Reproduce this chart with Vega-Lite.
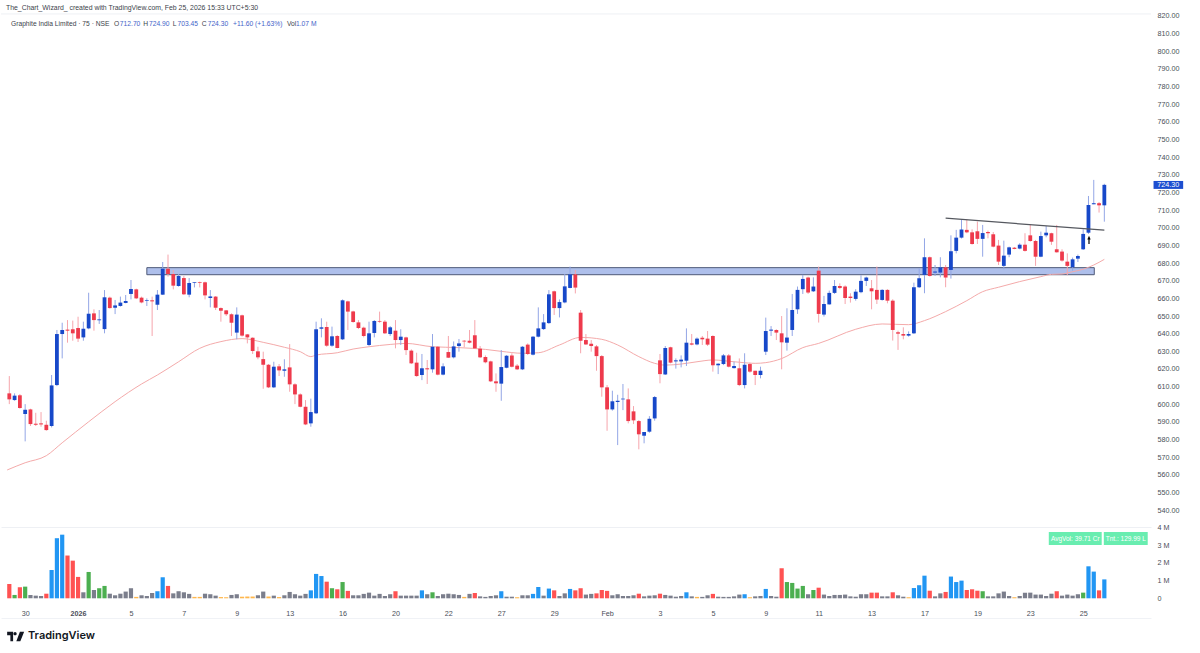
{
  "$schema": "https://vega.github.io/schema/vega-lite/v6.json",
  "description": "Graphite India Limited 75 minute candles with volume",
  "background": "#ffffff",
  "padding": 0,
  "spacing": 0,
  "bounds": "flush",
  "resolve": {"scale": {"color": "independent"}},
  "config": {
    "view": {"stroke": null},
    "font": "Liberation Sans",
    "axis": {"labelFont": "Liberation Sans", "grid": false, "ticks": false, "title": null, "labelOverlap": false}
  },
  "datasets": {
    "bars": [
      {"i":0,"o":606.2,"h":616.0,"l":600.1,"c":602.8,"v":0.81,"kind":"red"},
      {"i":1,"o":602.4,"h":606.2,"l":602.0,"c":604.9,"v":0.19,"kind":"green"},
      {"i":2,"o":605.1,"h":605.8,"l":597.5,"c":597.9,"v":0.62,"kind":"red"},
      {"i":3,"o":594.5,"h":600.1,"l":579.0,"c":596.9,"v":0.66,"kind":"green"},
      {"i":4,"o":597.1,"h":597.5,"l":587.7,"c":588.8,"v":0.19,"kind":"grey"},
      {"i":5,"o":589.0,"h":595.2,"l":587.7,"c":588.4,"v":0.15,"kind":"grey"},
      {"i":6,"o":589.2,"h":595.6,"l":587.3,"c":588.6,"v":0.13,"kind":"grey"},
      {"i":7,"o":588.4,"h":590.7,"l":585.0,"c":585.4,"v":0.26,"kind":"red"},
      {"i":8,"o":587.7,"h":616.6,"l":586.9,"c":610.7,"v":1.60,"kind":"blue"},
      {"i":9,"o":610.9,"h":642.1,"l":610.3,"c":639.8,"v":3.40,"kind":"blue"},
      {"i":10,"o":639.8,"h":646.2,"l":626.0,"c":642.1,"v":3.60,"kind":"blue"},
      {"i":11,"o":642.3,"h":647.7,"l":634.9,"c":641.7,"v":2.42,"kind":"red"},
      {"i":12,"o":642.5,"h":647.4,"l":636.0,"c":640.2,"v":2.13,"kind":"red"},
      {"i":13,"o":643.2,"h":649.6,"l":635.3,"c":637.2,"v":1.21,"kind":"red"},
      {"i":14,"o":637.9,"h":646.8,"l":636.0,"c":642.8,"v":0.34,"kind":"grey"},
      {"i":15,"o":643.0,"h":663.2,"l":642.5,"c":651.3,"v":1.49,"kind":"green"},
      {"i":16,"o":651.5,"h":653.8,"l":641.7,"c":647.7,"v":0.47,"kind":"grey"},
      {"i":17,"o":647.6,"h":653.4,"l":645.5,"c":648.1,"v":0.57,"kind":"green"},
      {"i":18,"o":642.6,"h":664.7,"l":640.2,"c":660.6,"v":0.70,"kind":"green"},
      {"i":19,"o":660.4,"h":661.0,"l":654.2,"c":654.5,"v":0.26,"kind":"grey"},
      {"i":20,"o":654.7,"h":659.1,"l":651.1,"c":656.0,"v":0.17,"kind":"grey"},
      {"i":21,"o":655.7,"h":661.0,"l":655.3,"c":657.6,"v":0.26,"kind":"grey"},
      {"i":22,"o":657.4,"h":661.9,"l":657.2,"c":658.5,"v":0.38,"kind":"grey"},
      {"i":23,"o":662.5,"h":670.4,"l":659.4,"c":665.3,"v":0.57,"kind":"grey"},
      {"i":24,"o":665.1,"h":665.5,"l":659.6,"c":660.0,"v":0.08,"kind":"orange"},
      {"i":25,"o":660.4,"h":661.0,"l":657.2,"c":657.7,"v":0.17,"kind":"grey"},
      {"i":26,"o":658.5,"h":660.0,"l":655.7,"c":658.9,"v":0.13,"kind":"grey"},
      {"i":27,"o":658.9,"h":661.0,"l":638.7,"c":658.3,"v":0.30,"kind":"grey"},
      {"i":28,"o":656.4,"h":664.7,"l":653.4,"c":662.1,"v":0.40,"kind":"blue"},
      {"i":29,"o":662.1,"h":680.6,"l":661.9,"c":676.8,"v":1.19,"kind":"blue"},
      {"i":30,"o":676.8,"h":684.8,"l":672.3,"c":673.8,"v":0.70,"kind":"red"},
      {"i":31,"o":673.8,"h":676.1,"l":665.1,"c":667.2,"v":0.28,"kind":"grey"},
      {"i":32,"o":667.0,"h":673.8,"l":666.6,"c":672.7,"v":0.40,"kind":"grey"},
      {"i":33,"o":671.5,"h":672.7,"l":661.9,"c":662.3,"v":0.34,"kind":"grey"},
      {"i":34,"o":662.1,"h":671.5,"l":660.6,"c":668.7,"v":0.25,"kind":"grey"},
      {"i":35,"o":668.7,"h":669.1,"l":666.2,"c":669.1,"v":0.08,"kind":"orange"},
      {"i":36,"o":669.1,"h":669.5,"l":666.2,"c":668.7,"v":0.08,"kind":"orange"},
      {"i":37,"o":669.1,"h":669.5,"l":659.4,"c":661.7,"v":0.26,"kind":"grey"},
      {"i":38,"o":660.2,"h":664.7,"l":654.9,"c":661.1,"v":0.23,"kind":"grey"},
      {"i":39,"o":661.0,"h":661.3,"l":653.4,"c":654.7,"v":0.15,"kind":"grey"},
      {"i":40,"o":654.5,"h":654.9,"l":646.8,"c":653.0,"v":0.07,"kind":"orange"},
      {"i":41,"o":653.2,"h":653.4,"l":650.0,"c":651.0,"v":0.06,"kind":"orange"},
      {"i":42,"o":651.0,"h":651.5,"l":638.7,"c":646.2,"v":0.19,"kind":"grey"},
      {"i":43,"o":640.6,"h":654.9,"l":636.8,"c":650.8,"v":0.23,"kind":"grey"},
      {"i":44,"o":650.4,"h":650.8,"l":638.3,"c":638.9,"v":0.09,"kind":"orange"},
      {"i":45,"o":639.6,"h":639.8,"l":634.5,"c":637.9,"v":0.10,"kind":"orange"},
      {"i":46,"o":637.7,"h":637.9,"l":628.5,"c":630.2,"v":0.10,"kind":"orange"},
      {"i":47,"o":630.0,"h":632.6,"l":625.5,"c":626.6,"v":0.17,"kind":"grey"},
      {"i":48,"o":625.6,"h":629.8,"l":608.8,"c":622.4,"v":0.38,"kind":"grey"},
      {"i":49,"o":622.4,"h":622.8,"l":609.2,"c":609.6,"v":0.10,"kind":"orange"},
      {"i":50,"o":609.6,"h":624.1,"l":609.2,"c":621.3,"v":0.15,"kind":"grey"},
      {"i":51,"o":621.5,"h":622.8,"l":616.0,"c":619.2,"v":0.07,"kind":"orange"},
      {"i":52,"o":619.0,"h":625.5,"l":615.6,"c":619.8,"v":0.17,"kind":"grey"},
      {"i":53,"o":620.9,"h":634.1,"l":607.1,"c":611.3,"v":0.36,"kind":"grey"},
      {"i":54,"o":611.3,"h":611.9,"l":600.1,"c":605.6,"v":0.23,"kind":"grey"},
      {"i":55,"o":605.6,"h":606.2,"l":598.3,"c":598.6,"v":0.15,"kind":"grey"},
      {"i":56,"o":598.6,"h":602.4,"l":588.2,"c":588.6,"v":0.25,"kind":"grey"},
      {"i":57,"o":589.2,"h":603.2,"l":587.3,"c":595.6,"v":0.45,"kind":"blue"},
      {"i":58,"o":594.9,"h":646.8,"l":594.5,"c":642.5,"v":1.38,"kind":"blue"},
      {"i":59,"o":642.8,"h":648.7,"l":637.9,"c":643.6,"v":1.26,"kind":"blue"},
      {"i":60,"o":643.8,"h":646.8,"l":632.6,"c":633.2,"v":0.94,"kind":"red"},
      {"i":61,"o":633.2,"h":644.0,"l":632.6,"c":638.5,"v":0.57,"kind":"green"},
      {"i":62,"o":638.7,"h":639.2,"l":631.7,"c":631.9,"v":0.51,"kind":"red"},
      {"i":63,"o":636.8,"h":659.4,"l":636.4,"c":658.9,"v":0.92,"kind":"green"},
      {"i":64,"o":658.3,"h":658.7,"l":642.1,"c":652.5,"v":0.42,"kind":"red"},
      {"i":65,"o":652.6,"h":653.0,"l":646.2,"c":646.6,"v":0.17,"kind":"grey"},
      {"i":66,"o":646.4,"h":647.7,"l":642.6,"c":643.2,"v":0.17,"kind":"grey"},
      {"i":67,"o":643.4,"h":644.0,"l":637.9,"c":638.7,"v":0.25,"kind":"grey"},
      {"i":68,"o":633.6,"h":646.8,"l":633.0,"c":640.2,"v":0.32,"kind":"grey"},
      {"i":69,"o":640.4,"h":647.7,"l":637.9,"c":647.2,"v":0.15,"kind":"grey"},
      {"i":70,"o":647.2,"h":652.5,"l":646.2,"c":646.8,"v":0.25,"kind":"grey"},
      {"i":71,"o":646.8,"h":647.7,"l":639.8,"c":640.2,"v":0.13,"kind":"grey"},
      {"i":72,"o":639.8,"h":644.3,"l":638.7,"c":643.6,"v":0.23,"kind":"grey"},
      {"i":73,"o":641.7,"h":647.7,"l":631.7,"c":636.4,"v":0.40,"kind":"red"},
      {"i":74,"o":636.4,"h":642.5,"l":633.6,"c":638.3,"v":0.15,"kind":"grey"},
      {"i":75,"o":637.9,"h":638.3,"l":627.9,"c":630.7,"v":0.15,"kind":"grey"},
      {"i":76,"o":630.4,"h":631.1,"l":622.8,"c":623.2,"v":0.15,"kind":"grey"},
      {"i":77,"o":623.6,"h":629.2,"l":615.6,"c":616.0,"v":0.15,"kind":"grey"},
      {"i":78,"o":616.6,"h":628.5,"l":613.7,"c":620.4,"v":0.45,"kind":"blue"},
      {"i":79,"o":620.4,"h":625.1,"l":611.5,"c":619.8,"v":0.23,"kind":"grey"},
      {"i":80,"o":619.8,"h":639.8,"l":617.9,"c":632.6,"v":0.34,"kind":"green"},
      {"i":81,"o":632.6,"h":633.0,"l":616.4,"c":616.8,"v":0.13,"kind":"grey"},
      {"i":82,"o":616.8,"h":623.2,"l":616.4,"c":621.5,"v":0.23,"kind":"grey"},
      {"i":83,"o":629.6,"h":638.7,"l":626.2,"c":626.4,"v":0.26,"kind":"grey"},
      {"i":84,"o":626.6,"h":635.6,"l":626.0,"c":632.8,"v":0.23,"kind":"grey"},
      {"i":85,"o":633.0,"h":637.0,"l":629.8,"c":634.5,"v":0.19,"kind":"grey"},
      {"i":86,"o":636.0,"h":636.4,"l":632.3,"c":635.6,"v":0.08,"kind":"orange"},
      {"i":87,"o":636.0,"h":642.1,"l":634.5,"c":634.9,"v":0.25,"kind":"grey"},
      {"i":88,"o":639.1,"h":647.7,"l":631.5,"c":631.7,"v":0.30,"kind":"red"},
      {"i":89,"o":631.5,"h":633.0,"l":626.2,"c":626.6,"v":0.11,"kind":"grey"},
      {"i":90,"o":626.8,"h":627.7,"l":623.2,"c":623.8,"v":0.08,"kind":"grey"},
      {"i":91,"o":624.3,"h":624.7,"l":612.6,"c":613.0,"v":0.13,"kind":"grey"},
      {"i":92,"o":613.0,"h":617.5,"l":607.1,"c":611.9,"v":0.17,"kind":"grey"},
      {"i":93,"o":611.7,"h":630.7,"l":602.0,"c":621.1,"v":0.40,"kind":"blue"},
      {"i":94,"o":620.7,"h":627.9,"l":620.4,"c":627.5,"v":0.09,"kind":"grey"},
      {"i":95,"o":627.7,"h":628.9,"l":620.9,"c":621.3,"v":0.09,"kind":"grey"},
      {"i":96,"o":621.9,"h":622.8,"l":619.4,"c":619.8,"v":0.06,"kind":"orange"},
      {"i":97,"o":619.8,"h":633.0,"l":619.4,"c":632.6,"v":0.17,"kind":"grey"},
      {"i":98,"o":633.8,"h":634.5,"l":627.9,"c":628.5,"v":0.17,"kind":"grey"},
      {"i":99,"o":628.1,"h":638.7,"l":627.7,"c":638.3,"v":0.25,"kind":"blue"},
      {"i":100,"o":638.3,"h":654.9,"l":637.9,"c":643.0,"v":0.64,"kind":"blue"},
      {"i":101,"o":642.6,"h":651.1,"l":642.1,"c":646.4,"v":0.15,"kind":"grey"},
      {"i":102,"o":646.0,"h":664.7,"l":645.5,"c":662.3,"v":0.55,"kind":"blue"},
      {"i":103,"o":664.0,"h":664.4,"l":650.6,"c":654.5,"v":0.45,"kind":"red"},
      {"i":104,"o":654.5,"h":659.4,"l":649.2,"c":657.9,"v":0.13,"kind":"grey"},
      {"i":105,"o":657.7,"h":673.8,"l":657.2,"c":666.8,"v":0.28,"kind":"grey"},
      {"i":106,"o":665.9,"h":678.0,"l":665.7,"c":673.6,"v":0.53,"kind":"blue"},
      {"i":107,"o":673.6,"h":676.1,"l":662.8,"c":666.1,"v":0.45,"kind":"red"},
      {"i":108,"o":651.9,"h":653.4,"l":628.9,"c":636.0,"v":0.57,"kind":"red"},
      {"i":109,"o":636.4,"h":639.8,"l":633.6,"c":633.9,"v":0.21,"kind":"grey"},
      {"i":110,"o":634.3,"h":636.4,"l":629.8,"c":633.0,"v":0.25,"kind":"grey"},
      {"i":111,"o":632.8,"h":633.6,"l":619.0,"c":627.3,"v":0.28,"kind":"red"},
      {"i":112,"o":627.3,"h":627.9,"l":604.3,"c":609.6,"v":0.47,"kind":"red"},
      {"i":113,"o":609.6,"h":610.9,"l":585.0,"c":597.1,"v":0.42,"kind":"red"},
      {"i":114,"o":597.1,"h":607.7,"l":596.4,"c":601.7,"v":0.17,"kind":"grey"},
      {"i":115,"o":601.3,"h":605.4,"l":576.9,"c":602.0,"v":0.23,"kind":"grey"},
      {"i":116,"o":602.8,"h":611.5,"l":596.7,"c":603.2,"v":0.13,"kind":"grey"},
      {"i":117,"o":602.8,"h":609.0,"l":589.2,"c":590.5,"v":0.13,"kind":"grey"},
      {"i":118,"o":596.0,"h":599.0,"l":588.8,"c":590.9,"v":0.17,"kind":"grey"},
      {"i":119,"o":590.5,"h":591.1,"l":574.5,"c":583.0,"v":0.26,"kind":"red"},
      {"i":120,"o":582.2,"h":584.3,"l":577.9,"c":584.3,"v":0.11,"kind":"grey"},
      {"i":121,"o":584.5,"h":593.3,"l":583.9,"c":591.8,"v":0.15,"kind":"grey"},
      {"i":122,"o":592.0,"h":604.7,"l":590.7,"c":604.1,"v":0.17,"kind":"grey"},
      {"i":123,"o":624.9,"h":628.5,"l":611.9,"c":617.1,"v":0.26,"kind":"red"},
      {"i":124,"o":616.9,"h":633.0,"l":616.6,"c":631.9,"v":0.19,"kind":"grey"},
      {"i":125,"o":632.3,"h":632.6,"l":623.2,"c":623.6,"v":0.15,"kind":"grey"},
      {"i":126,"o":624.3,"h":626.0,"l":620.2,"c":624.9,"v":0.09,"kind":"grey"},
      {"i":127,"o":624.3,"h":627.7,"l":620.9,"c":625.3,"v":0.13,"kind":"grey"},
      {"i":128,"o":624.7,"h":643.0,"l":621.7,"c":634.9,"v":0.34,"kind":"blue"},
      {"i":129,"o":634.5,"h":639.8,"l":633.4,"c":633.8,"v":0.11,"kind":"grey"},
      {"i":130,"o":633.9,"h":637.9,"l":633.4,"c":637.2,"v":0.08,"kind":"orange"},
      {"i":131,"o":637.7,"h":638.7,"l":633.6,"c":636.8,"v":0.08,"kind":"grey"},
      {"i":132,"o":637.2,"h":641.5,"l":633.0,"c":633.8,"v":0.17,"kind":"grey"},
      {"i":133,"o":638.7,"h":639.1,"l":618.5,"c":622.1,"v":0.25,"kind":"red"},
      {"i":134,"o":622.1,"h":623.2,"l":617.1,"c":623.0,"v":0.09,"kind":"grey"},
      {"i":135,"o":622.8,"h":628.5,"l":622.2,"c":627.7,"v":0.08,"kind":"grey"},
      {"i":136,"o":627.7,"h":628.5,"l":620.9,"c":621.3,"v":0.08,"kind":"grey"},
      {"i":137,"o":620.5,"h":624.1,"l":620.2,"c":621.7,"v":0.11,"kind":"grey"},
      {"i":138,"o":620.4,"h":626.0,"l":610.3,"c":610.9,"v":0.21,"kind":"grey"},
      {"i":139,"o":610.9,"h":628.9,"l":609.0,"c":622.4,"v":0.23,"kind":"blue"},
      {"i":140,"o":622.8,"h":623.6,"l":617.9,"c":618.5,"v":0.06,"kind":"orange"},
      {"i":141,"o":619.0,"h":619.0,"l":610.9,"c":616.6,"v":0.11,"kind":"grey"},
      {"i":142,"o":616.6,"h":621.3,"l":614.7,"c":619.0,"v":0.13,"kind":"grey"},
      {"i":143,"o":629.8,"h":649.1,"l":627.9,"c":641.5,"v":0.53,"kind":"blue"},
      {"i":144,"o":641.7,"h":644.3,"l":638.7,"c":642.3,"v":0.13,"kind":"grey"},
      {"i":145,"o":642.1,"h":642.5,"l":636.4,"c":640.6,"v":0.09,"kind":"grey"},
      {"i":146,"o":640.2,"h":650.0,"l":619.8,"c":635.1,"v":1.70,"kind":"red"},
      {"i":147,"o":634.9,"h":654.4,"l":630.4,"c":637.8,"v":0.92,"kind":"green"},
      {"i":148,"o":642.1,"h":662.5,"l":638.7,"c":653.4,"v":0.87,"kind":"green"},
      {"i":149,"o":653.8,"h":666.7,"l":651.2,"c":664.8,"v":0.55,"kind":"green"},
      {"i":150,"o":665.2,"h":673.3,"l":662.5,"c":671.0,"v":0.70,"kind":"green"},
      {"i":151,"o":671.8,"h":672.3,"l":662.5,"c":663.3,"v":0.23,"kind":"grey"},
      {"i":152,"o":664.0,"h":671.9,"l":663.6,"c":666.7,"v":0.47,"kind":"green"},
      {"i":153,"o":675.7,"h":678.0,"l":646.3,"c":651.2,"v":0.60,"kind":"red"},
      {"i":154,"o":650.8,"h":661.4,"l":649.7,"c":656.8,"v":0.21,"kind":"grey"},
      {"i":155,"o":656.6,"h":664.4,"l":656.4,"c":663.1,"v":0.13,"kind":"grey"},
      {"i":156,"o":663.1,"h":670.4,"l":662.5,"c":667.0,"v":0.19,"kind":"grey"},
      {"i":157,"o":667.0,"h":668.5,"l":665.2,"c":665.9,"v":0.19,"kind":"grey"},
      {"i":158,"o":666.7,"h":667.4,"l":656.8,"c":660.2,"v":0.21,"kind":"grey"},
      {"i":159,"o":661.0,"h":662.9,"l":657.6,"c":660.2,"v":0.11,"kind":"grey"},
      {"i":160,"o":659.7,"h":665.2,"l":658.7,"c":663.8,"v":0.09,"kind":"grey"},
      {"i":161,"o":663.5,"h":673.1,"l":662.9,"c":669.9,"v":0.23,"kind":"grey"},
      {"i":162,"o":669.9,"h":672.3,"l":667.0,"c":671.8,"v":0.23,"kind":"grey"},
      {"i":163,"o":665.7,"h":670.4,"l":653.8,"c":664.0,"v":0.32,"kind":"red"},
      {"i":164,"o":664.8,"h":678.0,"l":656.8,"c":659.3,"v":0.32,"kind":"red"},
      {"i":165,"o":659.1,"h":665.2,"l":658.7,"c":664.8,"v":0.11,"kind":"grey"},
      {"i":166,"o":664.8,"h":665.2,"l":657.2,"c":658.7,"v":0.11,"kind":"grey"},
      {"i":167,"o":658.7,"h":659.5,"l":636.1,"c":642.1,"v":0.34,"kind":"red"},
      {"i":168,"o":640.8,"h":641.7,"l":630.8,"c":640.0,"v":0.17,"kind":"grey"},
      {"i":169,"o":639.8,"h":643.6,"l":636.8,"c":638.9,"v":0.09,"kind":"grey"},
      {"i":170,"o":638.9,"h":641.3,"l":638.3,"c":639.8,"v":0.06,"kind":"orange"},
      {"i":171,"o":640.2,"h":668.9,"l":639.8,"c":666.3,"v":0.58,"kind":"blue"},
      {"i":172,"o":666.3,"h":677.0,"l":665.9,"c":671.4,"v":0.74,"kind":"blue"},
      {"i":173,"o":673.3,"h":694.0,"l":662.9,"c":683.3,"v":1.28,"kind":"blue"},
      {"i":174,"o":683.3,"h":683.7,"l":672.3,"c":672.7,"v":0.43,"kind":"red"},
      {"i":175,"o":674.6,"h":678.9,"l":672.7,"c":675.2,"v":0.11,"kind":"grey"},
      {"i":176,"o":674.6,"h":683.3,"l":671.9,"c":677.6,"v":0.28,"kind":"grey"},
      {"i":177,"o":677.6,"h":678.9,"l":666.3,"c":671.8,"v":0.36,"kind":"red"},
      {"i":178,"o":676.1,"h":695.7,"l":671.2,"c":686.7,"v":1.23,"kind":"blue"},
      {"i":179,"o":686.9,"h":698.8,"l":685.5,"c":694.4,"v":0.92,"kind":"blue"},
      {"i":180,"o":694.4,"h":704.8,"l":693.9,"c":699.0,"v":1.00,"kind":"blue"},
      {"i":181,"o":698.8,"h":704.8,"l":696.9,"c":697.4,"v":0.47,"kind":"red"},
      {"i":182,"o":697.4,"h":699.1,"l":690.4,"c":690.8,"v":0.51,"kind":"red"},
      {"i":183,"o":698.0,"h":703.5,"l":690.8,"c":693.7,"v":0.43,"kind":"red"},
      {"i":184,"o":693.7,"h":701.6,"l":683.6,"c":697.0,"v":0.40,"kind":"green"},
      {"i":185,"o":697.6,"h":698.4,"l":694.0,"c":696.9,"v":0.11,"kind":"grey"},
      {"i":186,"o":696.3,"h":697.6,"l":688.9,"c":689.3,"v":0.11,"kind":"grey"},
      {"i":187,"o":689.9,"h":693.1,"l":678.9,"c":680.8,"v":0.28,"kind":"grey"},
      {"i":188,"o":678.4,"h":692.7,"l":676.5,"c":684.2,"v":0.38,"kind":"grey"},
      {"i":189,"o":684.8,"h":689.3,"l":683.3,"c":688.9,"v":0.13,"kind":"grey"},
      {"i":190,"o":688.7,"h":689.1,"l":687.8,"c":688.0,"v":0.06,"kind":"orange"},
      {"i":191,"o":688.2,"h":691.2,"l":687.8,"c":690.4,"v":0.13,"kind":"grey"},
      {"i":192,"o":690.4,"h":696.9,"l":686.5,"c":686.9,"v":0.32,"kind":"grey"},
      {"i":193,"o":695.7,"h":701.6,"l":692.1,"c":692.5,"v":0.32,"kind":"grey"},
      {"i":194,"o":692.5,"h":693.1,"l":678.4,"c":683.6,"v":0.21,"kind":"grey"},
      {"i":195,"o":683.6,"h":697.8,"l":683.3,"c":695.3,"v":0.21,"kind":"grey"},
      {"i":196,"o":695.7,"h":701.0,"l":694.6,"c":697.2,"v":0.13,"kind":"grey"},
      {"i":197,"o":696.9,"h":697.2,"l":690.3,"c":692.1,"v":0.26,"kind":"grey"},
      {"i":198,"o":687.8,"h":701.6,"l":685.9,"c":686.1,"v":0.40,"kind":"red"},
      {"i":199,"o":686.5,"h":687.8,"l":680.8,"c":681.4,"v":0.15,"kind":"grey"},
      {"i":200,"o":680.8,"h":685.5,"l":673.1,"c":678.4,"v":0.21,"kind":"grey"},
      {"i":201,"o":677.6,"h":683.1,"l":675.7,"c":682.1,"v":0.15,"kind":"grey"},
      {"i":202,"o":682.5,"h":684.8,"l":680.6,"c":684.0,"v":0.23,"kind":"grey"},
      {"i":203,"o":687.8,"h":699.1,"l":687.4,"c":696.5,"v":0.32,"kind":"green"},
      {"i":204,"o":697.2,"h":718.0,"l":696.5,"c":712.9,"v":1.81,"kind":"blue"},
      {"i":205,"o":713.3,"h":727.1,"l":713.3,"c":713.9,"v":1.51,"kind":"blue"},
      {"i":206,"o":713.9,"h":714.6,"l":708.6,"c":712.7,"v":0.45,"kind":"red"},
      {"i":207,"o":712.7,"h":724.9,"l":703.45,"c":724.3,"v":1.07,"kind":"blue"}
    ],
    "ma": [
      {"i":-0.4,"p":562.8},{"i":3,"p":566.9},{"i":7,"p":570.9},{"i":10,"p":578.2},{"i":15,"p":590.1},
      {"i":20,"p":601.5},{"i":25,"p":611.5},{"i":28,"p":616.6},{"i":32,"p":624.1},{"i":36,"p":631.7},
      {"i":40,"p":635.5},{"i":44,"p":637.2},{"i":48,"p":635.1},{"i":52,"p":632.3},{"i":55,"p":629.8},
      {"i":57,"p":627.0},{"i":58,"p":627.9},{"i":62,"p":629.2},{"i":65,"p":631.3},{"i":68,"p":632.6},
      {"i":72,"p":633.9},{"i":75,"p":634.5},{"i":80,"p":632.6},{"i":85,"p":632.1},{"i":90,"p":631.1},
      {"i":93,"p":630.0},{"i":97,"p":628.9},{"i":100,"p":629.2},{"i":104,"p":633.6},{"i":108,"p":637.9},
      {"i":112,"p":636.8},{"i":115,"p":633.6},{"i":119,"p":627.0},{"i":122,"p":623.2},{"i":124,"p":622.2},
      {"i":127,"p":622.8},{"i":130,"p":624.1},{"i":133,"p":625.1},{"i":137,"p":624.1},{"i":141,"p":623.2},
      {"i":143,"p":623.6},{"i":146,"p":625.9},{"i":150,"p":632.1},{"i":153,"p":634.5},{"i":160,"p":642.5},
      {"i":165,"p":645.5},{"i":170,"p":645.1},{"i":173,"p":647.4},{"i":177,"p":652.5},{"i":181,"p":658.7},
      {"i":184,"p":663.8},{"i":187,"p":666.3},{"i":191,"p":669.5},{"i":195,"p":672.3},{"i":197,"p":673.6},
      {"i":199,"p":673.8},{"i":201,"p":675.1},{"i":203,"p":676.5},{"i":205,"p":678.9},{"i":207,"p":682.1}
    ]
  },
  "vconcat": [
    {
      "width": 1150,
      "height": 527,
      "layer": [
        {
          "data": {"values": [{"i": 26, "i2": 205.1, "top": 677.4, "bottom": 673.4}]},
          "mark": {"type": "rect", "fill": "#aebfeb", "stroke": "#4f5a78", "strokeWidth": 1},
          "encoding": {
            "x": {"field": "i", "type": "quantitative", "scale": {"domain": [-1.569, 215.82], "nice": false, "zero": false, "padding": 0}, "axis": {"labels": false, "domainColor": "#eef0f4", "title": null}},
            "x2": {"field": "i2"},
            "y": {"field": "top", "type": "quantitative", "scale": {"domain": [530.5, 829], "nice": false, "zero": false},
              "axis": {"orient": "right", "tickCount": 100, "values": [540,550,560,570,580,590,600,610,620,630,640,650,660,670,680,690,700,710,720,730,740,750,760,770,780,790,800,810,820], "format": ".2f", "domain": false, "labelAlign": "left", "labelPadding": 6, "labelFontSize": 7.2, "labelColor": "#4a4e58", "labelOverlap": false, "title": null}},
            "y2": {"field": "bottom"}
          }
        },
        {
          "data": {"values": [{"p": 821.1}]},
          "mark": {"type": "rule", "stroke": "#eef0f4", "strokeWidth": 1},
          "encoding": {"y": {"field": "p", "type": "quantitative"}}
        },
        {
          "data": {"name": "ma"},
          "mark": {"type": "line", "stroke": "#f4aaaa", "strokeWidth": 1, "interpolate": "monotone"},
          "encoding": {
            "x": {"field": "i", "type": "quantitative"},
            "y": {"field": "p", "type": "quantitative"}
          }
        },
        {
          "data": {"name": "bars"},
          "mark": {"type": "rule", "strokeWidth": 1},
          "encoding": {
            "x": {"field": "i", "type": "quantitative"},
            "y": {"field": "h", "type": "quantitative"},
            "y2": {"field": "l"},
            "color": {"condition": {"test": "datum.c >= datum.o", "value": "#93a6e6"}, "value": "#f6a5ac"}
          }
        },
        {
          "data": {"name": "bars"},
          "mark": {"type": "bar", "size": 3.8},
          "encoding": {
            "x": {"field": "i", "type": "quantitative"},
            "y": {"field": "o", "type": "quantitative"},
            "y2": {"field": "c"},
            "color": {"condition": {"test": "datum.c >= datum.o", "value": "#1748c9"}, "value": "#ee3a4c"}
          }
        },
        {
          "data": {"values": [{"i": 177, "i2": 207, "p": 705.4, "p2": 698.6}]},
          "mark": {"type": "rule", "stroke": "#55585f", "strokeWidth": 1.2},
          "encoding": {
            "x": {"field": "i", "type": "quantitative"},
            "x2": {"field": "i2"},
            "y": {"field": "p", "type": "quantitative"},
            "y2": {"field": "p2"}
          }
        },
        {
          "data": {"values": [{"i": 204.1, "p": 693.1}]},
          "mark": {"type": "point", "shape": "arrow", "filled": true, "size": 70, "color": "#000000", "opacity": 1},
          "encoding": {
            "x": {"field": "i", "type": "quantitative"},
            "y": {"field": "p", "type": "quantitative"}
          }
        },
        {
          "data": {"values": [{"i": 216.3, "i2": 221.9, "top": 726.5, "bottom": 722}]},
          "mark": {"type": "rect", "fill": "#1d4ed0"},
          "encoding": {
            "x": {"field": "i", "type": "quantitative"},
            "x2": {"field": "i2"},
            "y": {"field": "top", "type": "quantitative"},
            "y2": {"field": "bottom"}
          }
        },
        {
          "data": {"values": [{"i": 219.1, "p": 724.3, "label": "724.30"}]},
          "mark": {"type": "text", "color": "#ffffff", "fontSize": 7.2, "align": "center", "baseline": "middle"},
          "encoding": {
            "x": {"field": "i", "type": "quantitative"},
            "y": {"field": "p", "type": "quantitative"},
            "text": {"field": "label"}
          }
        },
        {
          "data": {"values": [
            {"i": -0.63, "p": 824.2, "label": "The_Chart_Wizard_ created with TradingView.com, Feb 25, 2026 15:33 UTC+5:30"}
          ]},
          "mark": {"type": "text", "color": "#3b3f4a", "fontSize": 6.9, "align": "left", "baseline": "middle"},
          "encoding": {
            "x": {"field": "i", "type": "quantitative"},
            "y": {"field": "p", "type": "quantitative"},
            "text": {"field": "label"}
          }
        },
        {
          "data": {"values": [
            {"i": 0.32, "p": 815.2, "label": "Graphite India Limited · 75 · NSE", "tone": "dark"},
            {"i": 19.8, "p": 815.2, "label": "O", "tone": "dark"},
            {"i": 20.9, "p": 815.2, "label": "712.70", "tone": "blue"},
            {"i": 25.3, "p": 815.2, "label": "H", "tone": "dark"},
            {"i": 26.4, "p": 815.2, "label": "724.90", "tone": "blue"},
            {"i": 30.9, "p": 815.2, "label": "L", "tone": "dark"},
            {"i": 31.8, "p": 815.2, "label": "703.45", "tone": "blue"},
            {"i": 36.4, "p": 815.2, "label": "C", "tone": "dark"},
            {"i": 37.5, "p": 815.2, "label": "724.30", "tone": "blue"},
            {"i": 42.3, "p": 815.2, "label": "+11.60 (+1.63%)", "tone": "blue"},
            {"i": 52.5, "p": 815.2, "label": "Vol", "tone": "dark"},
            {"i": 54.2, "p": 815.2, "label": "1.07 M", "tone": "blue"}
          ]},
          "mark": {"type": "text", "fontSize": 6.7, "align": "left", "baseline": "middle"},
          "encoding": {
            "x": {"field": "i", "type": "quantitative"},
            "y": {"field": "p", "type": "quantitative"},
            "text": {"field": "label"},
            "color": {"field": "tone", "type": "nominal", "scale": {"domain": ["dark", "blue"], "range": ["#3b3f4a", "#3f63c9"]}, "legend": null}
          }
        }
      ]
    },
    {
      "width": 1150,
      "height": 76,
      "layer": [
        {
          "data": {"name": "bars"},
          "mark": {"type": "bar", "size": 4.2},
          "encoding": {
            "x": {"field": "i", "type": "quantitative", "scale": {"domain": [-1.569, 215.82], "nice": false, "zero": false, "padding": 0},
              "axis": {"offset": 15, "tickCount": 100, "values": [3,13,23,33,43,53,63,73,83,93,103,113,123,133,143,153,163,173,183,193,203],
                "labelExpr": "['30','2026','5','7','9','13','16','20','22','27','29','Feb','3','5','9','11','13','17','19','23','25'][(datum.value - 3) / 10]",
                "labelFontWeight": {"condition": {"test": "datum.value == 13", "value": "bold"}, "value": "normal"},
                "labelPadding": -5, "labelBaseline": "middle", "labelFontSize": 7.2, "labelColor": "#4a4e58", "labelOverlap": false, "domainColor": "#f0f2f6", "title": null}},
            "y": {"field": "v", "type": "quantitative", "stack": null, "scale": {"domain": [-0.266, 4.034], "nice": false, "zero": false},
              "axis": {"orient": "right", "tickCount": 100, "values": [0,1,2,3,4], "labelExpr": "datum.value == 0 ? '0' : datum.value + ' M'", "domain": false, "labelAlign": "left", "labelPadding": 6, "labelFontSize": 7.2, "labelColor": "#4a4e58", "labelOverlap": false, "title": null}},
            "color": {"field": "kind", "type": "nominal", "scale": {"domain": ["grey", "blue", "red", "green", "orange"], "range": ["#7b7e8c", "#2196f3", "#ff5252", "#4caf50", "#ffb74d"]}, "legend": null}
          }
        },
        {
          "data": {"values": [
            {"i": 196.5, "i2": 206.5, "top": 3.75, "bottom": 3.01},
            {"i": 206.9, "i2": 215.2, "top": 3.75, "bottom": 3.01}
          ]},
          "mark": {"type": "rect", "fill": "#69edb0"},
          "encoding": {
            "x": {"field": "i", "type": "quantitative"},
            "x2": {"field": "i2"},
            "y": {"field": "top", "type": "quantitative"},
            "y2": {"field": "bottom"}
          }
        },
        {
          "data": {"values": [
            {"i": 201.5, "v": 3.38, "label": "AvgVol: 39.71 Cr"},
            {"i": 211.05, "v": 3.38, "label": "Tnt.: 129.99 L"}
          ]},
          "mark": {"type": "text", "color": "#ffffff", "fontSize": 6.5, "align": "center", "baseline": "middle"},
          "encoding": {
            "x": {"field": "i", "type": "quantitative"},
            "y": {"field": "v", "type": "quantitative"},
            "text": {"field": "label"}
          }
        },
        {
          "data": {"values": [{"i": 1.2, "v": -2.16}]},
          "mark": {"type": "point", "shape": "M-1,-0.55 L-0.3,-0.55 L-0.3,0.55 L-0.62,0.55 L-0.62,-0.13 L-1,-0.13 Z M-0.07,-0.52 a0.19,0.19 0 1 0 0.001,0 Z M0.5,-0.55 L1,-0.55 L0.55,0.55 L0.08,0.55 Z", "filled": true, "size": 289, "color": "#131722", "opacity": 1},
          "encoding": {
            "x": {"field": "i", "type": "quantitative"},
            "y": {"field": "v", "type": "quantitative"}
          }
        },
        {
          "data": {"values": [{"i": 3.53, "v": -2.16, "label": "TradingView"}]},
          "mark": {"type": "text", "color": "#131722", "fontSize": 11, "fontWeight": 600, "font": "Inter", "align": "left", "baseline": "middle"},
          "encoding": {
            "x": {"field": "i", "type": "quantitative"},
            "y": {"field": "v", "type": "quantitative"},
            "text": {"field": "label"}
          }
        }
      ]
    }
  ]
}
